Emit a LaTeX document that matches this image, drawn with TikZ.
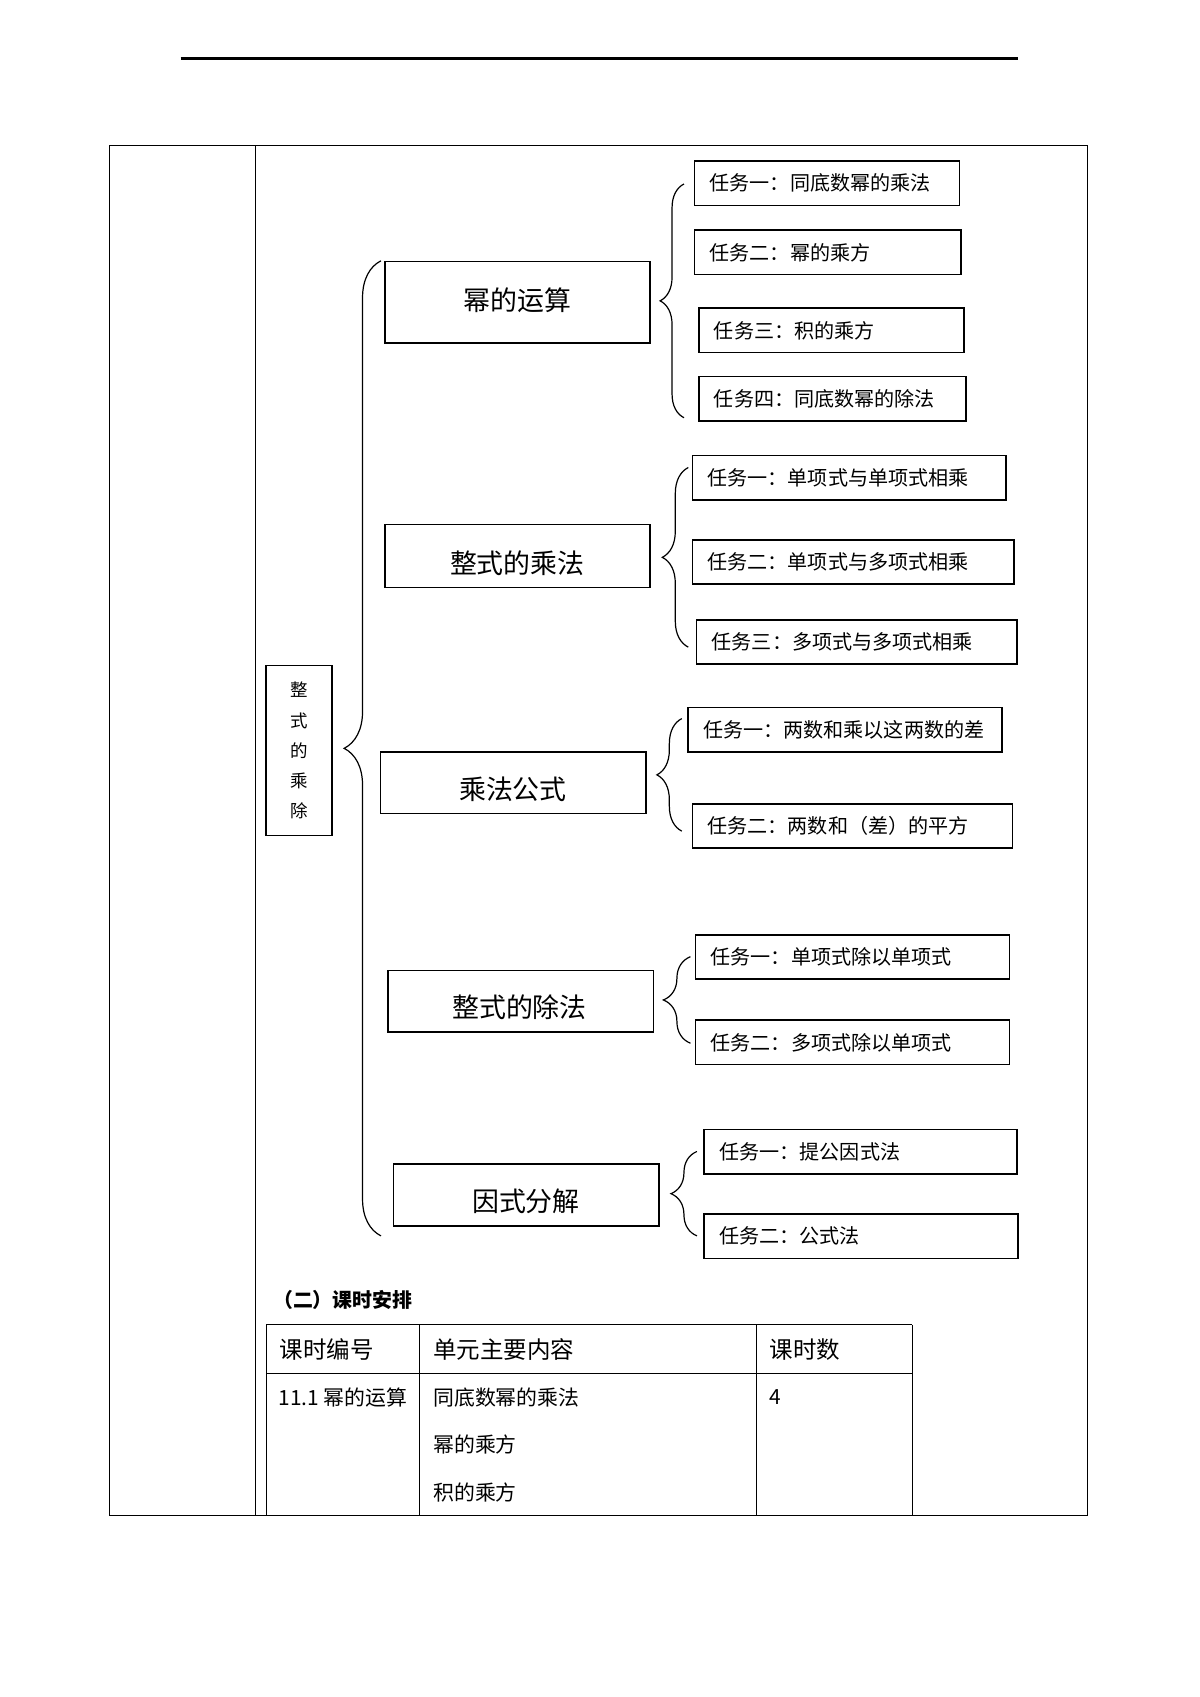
\documentclass[tikz,border=0pt]{standalone}
\usepackage{fontspec}
\setmainfont{Noto Sans CJK SC}
\usetikzlibrary{positioning,decorations.pathreplacing}
\def\px{0.01894cm}

\begin{document}
\begin{tikzpicture}[x=\px, y=-\px,
  rule/.style={line width=0.5pt},
  mainbox/.style={draw, line width=0.8pt, anchor=north west, minimum width=245*\px, inner sep=0pt},
  maintext/.style={font=\fontsize{13.4pt}{16pt}\selectfont, inner sep=0pt},
  taskbox/.style={draw, line width=0.8pt, anchor=north west, minimum height=41*\px, inner xsep=14*\px, inner ysep=0pt, text width=#1*\px-28*\px, align=left, font=\fontsize{10pt}{12pt}\selectfont},
  curly/.style={draw, line width=0.6pt, decorate, decoration={brace, amplitude=#1*\px}},
  cell/.style={anchor=west, inner sep=0pt, font=\fontsize{#1}{14pt}\selectfont}]
\useasboundingbox (0,0) rectangle (1108.8,1568.1);

% page rule and outer table
\draw[line width=1.1pt] (167,54) -- (941,54);
\draw[rule] (101,134) rectangle (1005,1400);
\draw[rule] (236,134) -- (236,1400);

% left title
\node[draw, line width=0.8pt, minimum width=61*\px, minimum height=157*\px, align=center, inner sep=0pt,
  font=\fontsize{8.7pt}{15pt}\selectfont] (title) at (276.5,693.5) {整\\式\\的\\乘\\除};

% main boxes
\node[mainbox, minimum height=75*\px] (M1) at (355,241) {};
\node[mainbox, minimum height=58*\px] (M2) at (355,484) {};
\node[mainbox, minimum height=57*\px] (M3) at (351,694) {};
\node[mainbox, minimum height=57*\px] (M4) at (358,896) {};
\node[mainbox, minimum height=57*\px] (M5) at (363,1075) {};
\node[maintext] (M1t) at (478,277) {幂的运算};
\node[maintext] (M2t) at (478,520) {整式的乘法};
\node[maintext] (M3t) at (474,729) {乘法公式};
\node[maintext] (M4t) at (480,931) {整式的除法};
\node[maintext] (M5t) at (486,1110) {因式分解};

% task boxes
\node[taskbox=245] (T11) at (641,148) {任务一：同底数幂的乘法};
\node[taskbox=246] (T12) at (641,212) {任务二：幂的乘方};
\node[taskbox=245] (T13) at (645,284) {任务三：积的乘方};
\node[taskbox=247] (T14) at (645,347) {任务四：同底数幂的除法};
\node[taskbox=290] (T21) at (639,420) {任务一：单项式与单项式相乘};
\node[taskbox=297] (T22) at (639,498) {任务二：单项式与多项式相乘};
\node[taskbox=296] (T23) at (643,572) {任务三：多项式与多项式相乘};
\node[taskbox=290] (T31) at (635,653) {任务一：两数和乘以这两数的差};
\node[taskbox=296] (T32) at (639,742) {任务二：两数和（差）的平方};
\node[taskbox=290] (T41) at (642,863) {任务一：单项式除以单项式};
\node[taskbox=290] (T42) at (642,942) {任务二：多项式除以单项式};
\node[taskbox=289] (T51) at (650,1043) {任务一：提公因式法};
\node[taskbox=290] (T52) at (650,1121) {任务二：公式法};

% braces
\coordinate (B0a) at (352,1142); \coordinate (B0b) at (352,241);
\coordinate (B1a) at (632,386);  \coordinate (B1b) at (632,170);
\coordinate (B2a) at (636,598);  \coordinate (B2b) at (636,432);
\coordinate (B3a) at (630,768);  \coordinate (B3b) at (630,664);
\coordinate (B4a) at (638,964);  \coordinate (B4b) at (638,884);
\coordinate (B5a) at (644,1142); \coordinate (B5b) at (644,1064);
\path[curly=34] (B0a) -- (B0b);
\path[curly=22] (B1a) -- (B1b);
\path[curly=24] (B2a) -- (B2b);
\path[curly=23] (B3a) -- (B3b);
\path[curly=25] (B4a) -- (B4b);
\path[curly=24] (B5a) -- (B5b);

% timetable
\node[anchor=west, inner sep=0pt, font=\bfseries\fontsize{9.9pt}{12pt}\selectfont] (sec) at (252,1201) {（二）课时安排};
\draw[rule] (246,1224) -- (843,1224);
\draw[rule] (246,1269) -- (843,1269);
\foreach \cx in {246,388,699,843}
  \draw[rule] (\cx,1224) -- (\cx,1400);
\node[cell=11.7pt] (h1) at (258,1247) {课时编号};
\node[cell=11.7pt] (h2) at (400,1247) {单元主要内容};
\node[cell=11.7pt] (h3) at (711,1247) {课时数};
\node[cell=10.4pt] (r1) at (257,1291) {11.1 幂的运算};
\node[cell=10.4pt] (r2) at (400,1291) {同底数幂的乘法};
\node[cell=10.4pt] (r3) at (400,1335) {幂的乘方};
\node[cell=10.4pt] (r4) at (400,1379) {积的乘方};
\node[cell=10.4pt] (r5) at (711,1291) {4};
\end{tikzpicture}
\end{document}
